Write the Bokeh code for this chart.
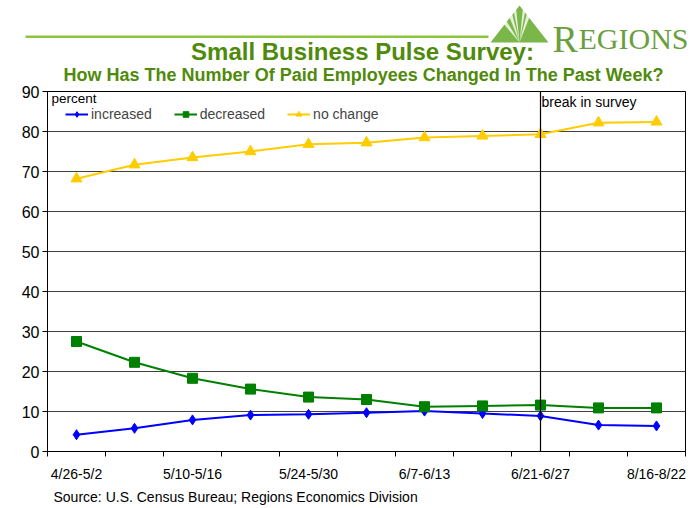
from bokeh.plotting import figure
from bokeh.layouts import column
from bokeh.models import Span, FixedTicker, Legend, LegendItem, Range1d, Label
from bokeh.core.properties import value
from bokeh.embed import file_html
from bokeh.resources import INLINE

# ---------------- data ----------------
weeks = ["4/26-5/2", "5/3-5/9", "5/10-5/16", "5/17-5/23", "5/24-5/30",
         "5/31-6/6", "6/7-6/13", "6/14-6/20", "6/21-6/27", "8/9-8/15",
         "8/16-8/22"]
labeled_weeks = ["4/26-5/2", "5/10-5/16", "5/24-5/30", "6/7-6/13",
                 "6/21-6/27", "8/16-8/22"]
increased = [4.2, 5.8, 7.9, 9.1, 9.3, 9.7, 10.1, 9.5, 8.9, 6.6, 6.4]
decreased = [27.5, 22.3, 18.3, 15.6, 13.6, 13.0, 11.2, 11.4, 11.6, 10.9, 10.9]
no_change = [68.2, 71.7, 73.5, 75.0, 76.8, 77.2, 78.5, 78.9, 79.3, 82.2, 82.4]
y_ticks = [0, 10, 20, 30, 40, 50, 60, 70, 80, 90]
break_week = "6/21-6/27"
title = "Small Business Pulse Survey:"
subtitle = "How Has The Number Of Paid Employees Changed In The Past Week?"
source = "Source: U.S. Census Bureau; Regions Economics Division"

FONT = "Liberation Sans"
TITLE_GREEN = "#4F8A0B"
LOGO_G = "#7AB648"
LOGO_TEXT = "#6A9F40"
W = 696
HEAD_H = 85
FOOT_H = 22
MAIN_H = 508 - HEAD_H - FOOT_H

def blank_fig(h):
    f = figure(width=W, height=h, output_backend="svg", toolbar_location=None,
               x_range=Range1d(0, W), y_range=Range1d(h, 0),
               x_axis_type=None, y_axis_type=None,
               min_border=0, min_border_left=0, min_border_right=0,
               min_border_top=0, min_border_bottom=0, frame_align=False)
    f.outline_line_color = None
    f.xgrid.visible = False
    f.ygrid.visible = False
    f.background_fill_color = "white"
    f.border_fill_color = "white"
    return f

# ---------------- header ----------------
head = blank_fig(HEAD_H)
head.quad(left=[25], right=[488], top=[35], bottom=[37.5], fill_color="#8CC63F", line_color=None)
head.patch([490, 519, 548], [42, 5, 42], fill_color=LOGO_G, line_color=None)
rays_x = [[519, 502, 505], [519, 508, 511], [519, 513, 515.5], [519, 522.5, 525], [519, 527, 530]]
rays_y = [[42, 22, 19], [42, 14, 11], [42, 9, 7], [42, 7, 9], [42, 11, 14]]
head.patches(rays_x, rays_y, fill_color="white", fill_alpha=0.8, line_color=None)
head.text([552], [38], text=["R"], text_font=value("Liberation Serif"),
          text_font_size="38px", text_color=LOGO_TEXT, text_baseline="alphabetic")
head.text([578], [38], text=["EGIONS"], text_font=value("Liberation Serif"),
          text_font_size="30px", text_color=LOGO_TEXT, text_baseline="alphabetic")
head.text([362], [51], text=[title], text_font=value(FONT), text_font_size="24px",
          text_font_style="bold", text_color=TITLE_GREEN, text_align="center",
          text_baseline="middle")
head.text([363], [74.5], text=[subtitle], text_font=value(FONT), text_font_size="18px",
          text_font_style="bold", text_color=TITLE_GREEN, text_align="center",
          text_baseline="middle")

# ---------------- main chart ----------------
x = list(range(len(weeks)))
FRAME_TOP, FRAME_BOTTOM, FRAME_LEFT, FRAME_RIGHT = 91, 451, 47, 685
p = figure(width=W, height=MAIN_H, output_backend="svg", toolbar_location=None,
           x_range=Range1d(-0.5, len(weeks) - 0.5), y_range=Range1d(0, 90),
           min_border_left=FRAME_LEFT, min_border_right=W - FRAME_RIGHT,
           min_border_top=FRAME_TOP - HEAD_H,
           min_border_bottom=HEAD_H + MAIN_H - FRAME_BOTTOM, frame_align=False)
p.background_fill_color = "white"
p.border_fill_color = "white"
p.outline_line_color = "black"
p.outline_line_width = 1

p.xgrid.visible = False
p.ygrid.ticker = FixedTicker(ticks=y_ticks)
p.ygrid.grid_line_color = "#404040"
p.ygrid.grid_line_width = 1

p.yaxis.ticker = FixedTicker(ticks=y_ticks)
p.yaxis.axis_line_color = "black"
p.yaxis.major_tick_line_color = "black"
p.yaxis.major_tick_out = 5
p.yaxis.major_tick_in = 0
p.yaxis.minor_tick_line_color = None
p.yaxis.major_label_text_font = FONT
p.yaxis.major_label_text_font_size = "16px"
p.yaxis.major_label_text_color = "black"
p.yaxis.major_label_standoff = 3

p.xaxis.ticker = FixedTicker(ticks=x, minor_ticks=[i - 0.5 for i in range(len(weeks) + 1)])
p.xaxis.axis_line_color = "black"
p.xaxis.major_tick_line_color = None
p.xaxis.major_tick_out = 0
p.xaxis.major_tick_in = 0
p.xaxis.minor_tick_line_color = "black"
p.xaxis.minor_tick_out = 5
p.xaxis.minor_tick_in = 0
p.xaxis.major_label_overrides = {i: (w if w in labeled_weeks else "") for i, w in enumerate(weeks)}
p.xaxis.major_label_text_font = FONT
p.xaxis.major_label_text_font_size = "14px"
p.xaxis.major_label_text_color = "black"
p.xaxis.major_label_standoff = 9

r1 = p.line(x, increased, line_color="#0000FF", line_width=2)
s1 = p.scatter(x, increased, marker="diamond", size=10, fill_color="#0000FF", line_color="#0000FF")
r2 = p.line(x, decreased, line_color="#008000", line_width=2)
s2 = p.scatter(x, decreased, marker="square", size=10, fill_color="#008000", line_color="#008000")
r3 = p.line(x, no_change, line_color="#FFCC00", line_width=2)
s3 = p.scatter(x, no_change, marker="triangle", size=11, fill_color="#FFCC00", line_color="#FFCC00")

p.add_layout(Span(location=weeks.index(break_week), dimension="height",
                  line_color="black", line_width=1.2))

legend = Legend(items=[LegendItem(label="increased", renderers=[r1, s1]),
                       LegendItem(label="decreased", renderers=[r2, s2]),
                       LegendItem(label="no change", renderers=[r3, s3])],
                orientation="horizontal", location=(18, 329),
                border_line_color=None, background_fill_alpha=0,
                label_text_font=FONT, label_text_font_size="14px",
                glyph_width=23, glyph_height=14, label_standoff=3,
                spacing=22, padding=0, margin=0, label_height=14)
p.add_layout(legend)

def frame_label(px, py, text, size):
    p.add_layout(Label(x=px - FRAME_LEFT, y=FRAME_BOTTOM - py, x_units="screen",
                       y_units="screen", text=text, text_font=FONT,
                       text_font_size=size, text_color="black",
                       text_baseline="middle"))

frame_label(51, 98, "percent", "13.5px")
frame_label(541, 101, "break in survey", "14px")

# ---------------- footer ----------------
foot = blank_fig(FOOT_H)
foot.text([53], [10], text=[source], text_font=value(FONT), text_font_size="14px",
          text_color="black", text_baseline="middle")

layout = column(head, p, foot, spacing=0)
open("out.html", "w").write(file_html(layout, INLINE))
